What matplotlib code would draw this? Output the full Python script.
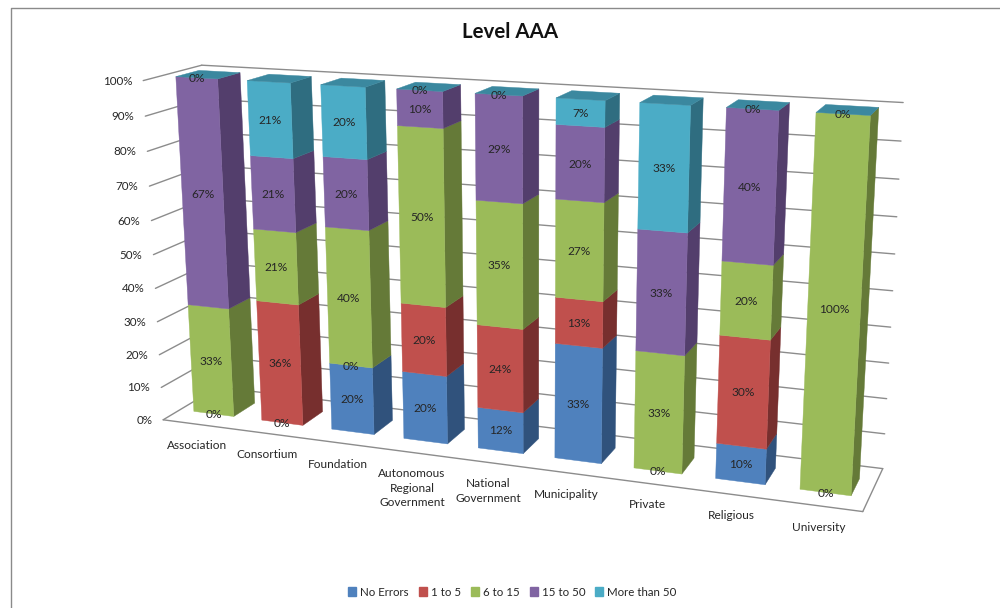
import matplotlib
matplotlib.use("Agg")
import matplotlib.pyplot as plt
import numpy as np
from matplotlib.patches import Patch, Polygon

plt.rcParams['font.family'] = ['Lato', 'DejaVu Sans']

categories = ["Association", "Consortium", "Foundation", "Autonomous\nRegional\nGovernment",
              "National\nGovernment", "Municipality", "Private", "Religious", "University"]
series_names = ["No Errors", "1 to 5", "6 to 15", "15 to 50", "More than 50"]
no_errors = [0, 0, 20, 20, 12, 33, 0, 10, 0]
one_to_five = [0, 36, 0, 20, 24, 13, 0, 30, 0]
six_to_fifteen = [33, 21, 40, 50, 35, 27, 33, 20, 100]
fifteen_to_fifty = [67, 21, 20, 10, 29, 20, 33, 40, 0]
more_than_fifty = [0, 21, 20, 0, 0, 7, 33, 0, 0]
value_ticks = [0, 10, 20, 30, 40, 50, 60, 70, 80, 90, 100]

front_colors = ["#4F81BD", "#C0504D", "#9BBB59", "#8064A2", "#4BACC6"]
side_colors = ["#30527C", "#772F2E", "#657A38", "#533E6C", "#2F6D80"]
top_color = "#3B889F"
grid_color = "#8C8C8C"
text_color = "#262626"

BAR_WIDTH = 0.59
BAR_FRONT = 0.30
BAR_BACK = 0.70

# camera for the chart box: box coords (across, value, depth) -> figure pixels
box_refs = [
    ((0, 1, 0), (143, 81)), ((0, 0, 0), (163.3, 420)), ((1, 0, 0), (862.7, 511.7)),
    ((1, 0, 1), (882.7, 468.3)), ((1, 1, 1), (903, 102.7)), ((0, 1, 1), (201.7, 65.3)),
    ((0, .5, 0), (153.3, 254)), ((1, .6, 1), (894.7, 253.7)), ((1, .2, 1), (886.7, 399)),
    ((0, .2, 0), (159.3, 355)), ((0, .8, 0), (147.7, 151)), ((1, .9, 1), (901.3, 141)),
]


def fit_camera(refs):
    rows = []
    for (a, b, c), (px, py) in refs:
        rows.append([a, b, c, 1, 0, 0, 0, 0, -px * a, -px * b, -px * c, -px])
        rows.append([0, 0, 0, 0, a, b, c, 1, -py * a, -py * b, -py * c, -py])
    return np.linalg.svd(np.array(rows, dtype=float))[2][-1].reshape(3, 4)


camera = fit_camera(box_refs)


def project(across, value, depth):
    p = camera @ np.array([across, value, depth, 1.0])
    return p[0] / p[2], p[1] / p[2]


def add_face(ax, corners, color, z=3):
    ax.add_patch(Polygon([project(*c) for c in corners], closed=True, facecolor=color,
                         edgecolor=color, linewidth=0.3, zorder=z))


def box_line(ax, start, end, z=1):
    (x0, y0), (x1, y1) = project(*start), project(*end)
    ax.plot([x0, x1], [y0, y1], color=grid_color, linewidth=1.0, zorder=z, solid_capstyle='round')


fig = plt.figure(figsize=(10, 6.08), dpi=100)
ax = fig.add_axes([0, 0, 1, 1])
ax.set_xlim(0, 1000)
ax.set_ylim(608, 0)
ax.axis('off')

# chart area border, cut off on the right and at the bottom
ax.plot([10.5, 10.5, 1000], [608, 7.5, 7.5], color="#8A8A8A", linewidth=1.0)

ax.text(510, 31.5, "Level AAA", ha='center', va='center', fontsize=14.8, fontweight='bold', color="#111111")

# gridlines on side wall and back wall, plus the value axis labels
for tick in value_ticks:
    v = tick / 100
    box_line(ax, (0, v, 0), (0, v, 1))
    box_line(ax, (0, v, 1), (1, v, 1))
    x, y = project(0, v, 0)
    ax.text(x - 11, y + 0.5, f"{tick}%", ha='right', va='center', fontsize=8.4, color=text_color)

# floor outline
box_line(ax, (0, 0, 0), (1, 0, 0))
box_line(ax, (1, 0, 0), (1, 0, 1))

stack = np.array([no_errors, one_to_five, six_to_fifteen, fifteen_to_fifty, more_than_fifty], dtype=float)
totals = stack.sum(axis=0)
n_cat = len(categories)

for i, name in enumerate(categories):
    x0 = (i + 0.5 - BAR_WIDTH / 2) / n_cat
    x1 = (i + 0.5 + BAR_WIDTH / 2) / n_cat
    xc = (i + 0.5) / n_cat
    base = 0.0
    seen = set()
    for s in range(len(series_names)):
        val = stack[s, i]
        top = base + val / totals[i]
        if val > 0:
            add_face(ax, [(x1, base, BAR_FRONT), (x1, base, BAR_BACK), (x1, top, BAR_BACK), (x1, top, BAR_FRONT)],
                     side_colors[s])
            add_face(ax, [(x0, base, BAR_FRONT), (x1, base, BAR_FRONT), (x1, top, BAR_FRONT), (x0, top, BAR_FRONT)],
                     front_colors[s], z=4)
        # zero values collapse onto one spot, one label is enough there
        mid = round((base + top) / 2, 4)
        if mid not in seen:
            seen.add(mid)
            lx, ly = project(xc, mid, BAR_FRONT)
            ax.text(lx, ly + 0.5, f"{val:.0f}%", ha='center', va='center', fontsize=8.6, color=text_color, zorder=6)
        base = top
    add_face(ax, [(x0, 1, BAR_FRONT), (x1, 1, BAR_FRONT), (x1, 1, BAR_BACK), (x0, 1, BAR_BACK)], top_color, z=4)

    lx, ly = project(xc, 0, 0)
    ax.text(lx, ly + 16, name, ha='center', va='top', multialignment='center', fontsize=8.6,
            color=text_color, linespacing=1.35)

handles = [Patch(facecolor=c, edgecolor=c, label=n) for c, n in zip(front_colors, series_names)]
ax.legend(handles=handles, loc='center', bbox_to_anchor=(0.5125, 1 - 592 / 608), ncol=5, frameon=False,
          fontsize=8.3, handlelength=0.7, handleheight=0.7, handletextpad=0.35, columnspacing=0.85,
          labelcolor=text_color)

fig.savefig("out.png", dpi=100)
